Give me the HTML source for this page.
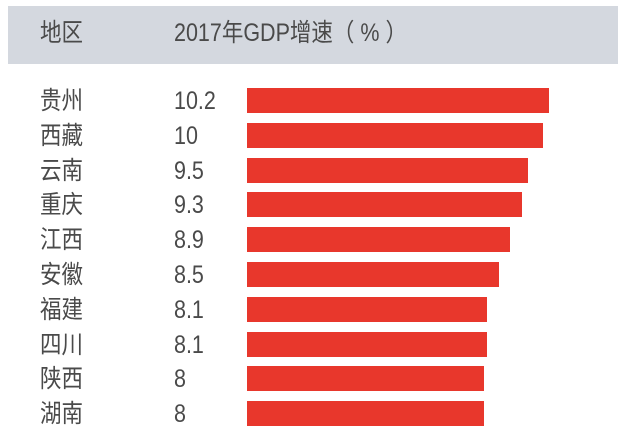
<!DOCTYPE html>
<html><head><meta charset="utf-8"><style>
body{margin:0;width:628px;height:431px;background:#fff;position:relative;overflow:hidden;font-family:"Liberation Sans","Noto Sans CJK SC",sans-serif;color:#4a4a4a}
.hd{position:absolute;left:8px;top:6px;width:610px;height:58px;background:#d4d8df}
.t{position:absolute;font-size:25px;line-height:25px;white-space:nowrap;transform:scaleX(0.86);transform-origin:left center}
.b{position:absolute;left:247px;height:25px;background:#e8372c}
</style></head><body>
<div class="hd"></div>
<div class="t" style="left:40px;top:21px">地区</div>
<div class="t" style="left:174px;top:21px">2017年GDP增速（ % ）</div>
<div id="r"></div>
<script>
var d=[["贵州","10.2"],["西藏","10"],["云南","9.5"],["重庆","9.3"],["江西","8.9"],["安徽","8.5"],["福建","8.1"],["四川","8.1"],["陕西","8"],["湖南","8"]];
var h="";d.forEach(function(e,i){var y=88+i*34.8;
h+='<div class="t" style="left:40px;top:'+(y+1)+'px">'+e[0]+'</div><div class="t" style="left:174px;top:'+(y+1)+'px">'+e[1]+'</div><div class="b" style="top:'+y+'px;width:'+(parseFloat(e[1])*29.6)+'px"></div>';});
document.getElementById("r").innerHTML=h;
</script>
</body></html>
